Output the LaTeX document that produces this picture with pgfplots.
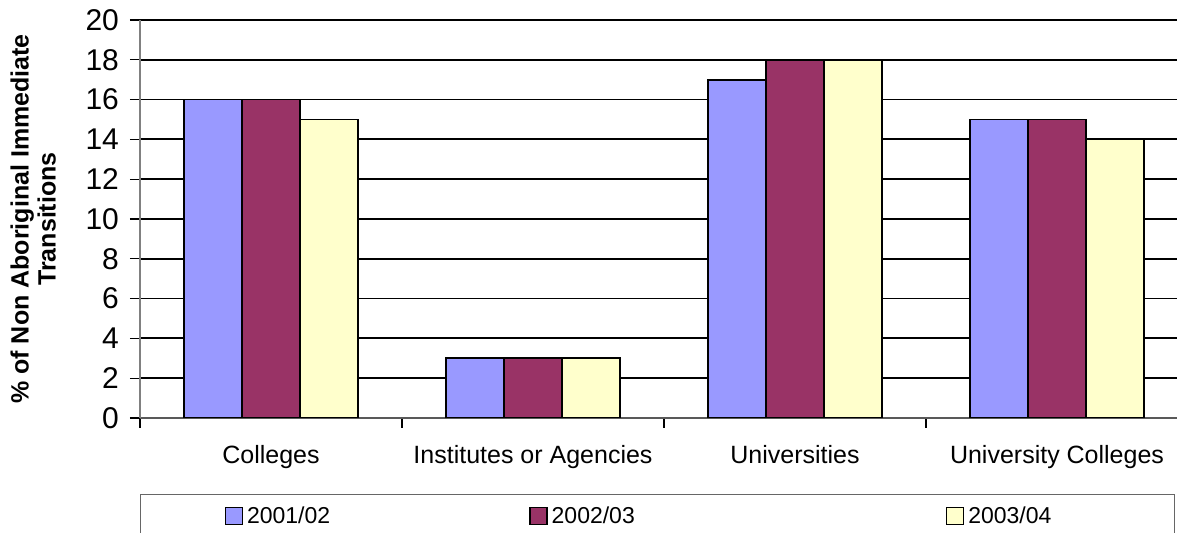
\documentclass[border=0pt]{standalone}
\usepackage{pgfplots}
\pgfplotsset{compat=1.18}
\usepackage{fontspec}
\setmainfont{Liberation Sans}
\definecolor{sblue}{HTML}{9999FF}
\definecolor{sred}{HTML}{993366}
\definecolor{syellow}{HTML}{FFFFCC}
\begin{document}
\begin{tikzpicture}
\begin{axis}[
    at={(0,0)}, anchor=south west,
    scale only axis,
    width=518.5pt, height=199pt,
    ybar=0pt, bar width=29pt,
    xmin=-0.5, xmax=3.458,
    ymin=0, ymax=20,
    ytick={0,2,...,20},
    xtick={0,1,2,3},
    xticklabels={Colleges, Institutes or Agencies, Universities, University Colleges},
    minor xtick={-0.5,0.5,1.5,2.5},
    major x tick style={draw=none},
    minor x tick style={black, line width=0.6pt},
    minor tick length=5pt,
    y tick style={black, line width=0.6pt},
    major tick length=5pt,
    tick align=outside,
    axis x line*=bottom, axis y line*=left,
    x axis line style={gray!70!black, line width=0.8pt, -},
    y axis line style={gray, line width=0.8pt, -},
    ymajorgrids, grid style={black, line width=0.9pt},
    /pgf/number format/assume math mode=true,
    yticklabel style={font=\fontsize{15}{15}\selectfont, xshift=-2pt},
    xticklabel style={font=\fontsize{12.5}{14}\selectfont, yshift=-5pt},
    ylabel={\textbf{\% of Non Aboriginal Immediate}\\\textbf{Transitions}},
    ylabel style={font=\fontsize{12.5}{13.5}\selectfont, align=center, yshift=8pt},
    legend style={at={(0,-0.191)}, anchor=north west, draw=gray!80!black,
        line width=0.5pt, font=\fontsize{11.5}{13}\selectfont,
        inner xsep=42pt, inner ysep=4pt, legend columns=-1},
    legend image code/.code={\draw[#1, line width=0.8pt] (0pt,-4pt) rectangle (8.5pt,4.5pt);},
]
\addplot[draw=black, line width=0.9pt, fill=sblue] coordinates {(0,16) (1,3) (2,17) (3,15)};
\addplot[draw=black, line width=0.9pt, fill=sred] coordinates {(0,16) (1,3) (2,18) (3,15)};
\addplot[draw=black, line width=0.9pt, fill=syellow] coordinates {(0,15) (1,3) (2,18) (3,14)};
\legend{\makebox[139pt][l]{2001/02}, \makebox[195pt][l]{2002/03}, \makebox[59pt][l]{2003/04}}
\end{axis}
\pgfresetboundingbox
\path[use as bounding box] (-70pt,-57.5pt) rectangle (518.5pt,209pt);
\end{tikzpicture}
\end{document}
